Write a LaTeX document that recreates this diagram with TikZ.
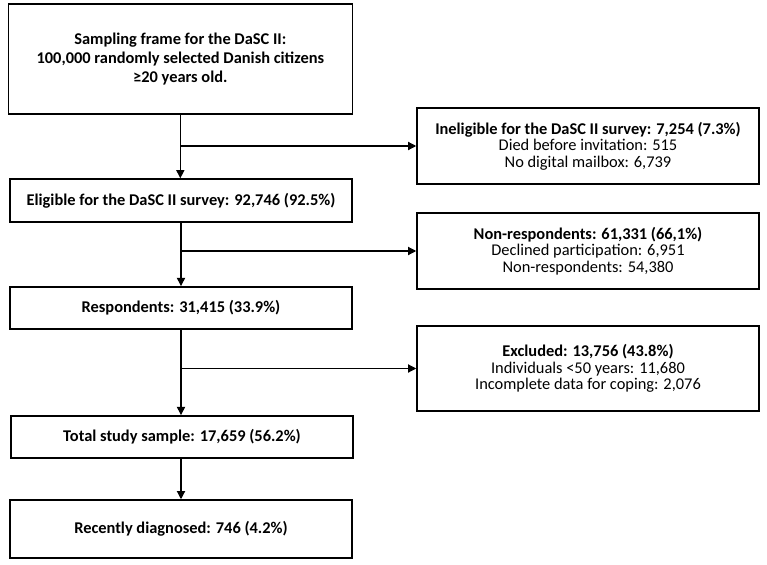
\documentclass[tikz,border=0pt]{standalone}
\usepackage{fontspec}
\setmainfont{Carlito}
\usetikzlibrary{arrows.meta, positioning, calc}

\begin{document}
\begin{tikzpicture}[
    >={Triangle[length=7pt,width=7pt]},
    font=\fontsize{14}{14.2}\selectfont,
    box/.style      ={draw, line width=1.3pt, align=center, inner sep=2pt,
                      minimum width=10.26cm, minimum height=1.27cm},
    mainbox/.style  ={box, font=\fontsize{14}{15}\selectfont\bfseries},
    sidebox/.style  ={box, minimum height=2.28cm},
    flow/.style     ={->, line width=1pt}
]
\useasboundingbox (0,0) rectangle (23.01,-16.95);

% Main column
\node[mainbox, minimum width=10.32cm, minimum height=3.3cm,
      font=\fontsize{14}{16}\selectfont\bfseries] (frame) at (5.41,-1.77)
    {Sampling frame for the DaSC II:\\100,000 randomly selected Danish citizens\\≥20 years old.};
\node[mainbox, minimum height=1.29cm] (elig) at (5.43,-6.015)
    {Eligible for the DaSC II survey: 92,746 (92.5\%)};
\node[mainbox] (resp)  at (5.43,-9.24)  {Respondents: 31,415 (33.9\%)};
\node[mainbox] (total) at (5.46,-13.11) {Total study sample: 17,659 (56.2\%)};
\node[mainbox, minimum height=1.74cm] (recent) at (5.43,-15.87)
    {Recently diagnosed: 746 (4.2\%)};

% Side column
\node[sidebox] (inel) at (17.64,-4.38)
    {\textbf{Ineligible for the DaSC II survey: 7,254 (7.3\%)}\\Died before invitation: 515\\No digital mailbox: 6,739};
\node[sidebox] (nonresp) at (17.64,-7.53)
    {\textbf{Non-respondents: 61,331 (66,1\%)}\\Declined participation: 6,951\\Non-respondents: 54,380};
\node[sidebox, minimum height=2.55cm] (excl) at (17.64,-11.055)
    {\textbf{Excluded: 13,756 (43.8\%)}\\Individuals <50 years: 11,680\\Incomplete data for coping: 2,076};

% --- Arrows ---
\draw[flow] (frame.south) -- (frame.south |- elig.north);
\draw[flow] (frame.south |- inel.west) -- (inel.west);
\draw[flow] (elig.south) -- (resp.north);
\draw[flow] (elig.south |- nonresp.west) -- (nonresp.west);
\draw[flow] (resp.south) -- (resp.south |- total.north);
\draw[flow] (resp.south |- excl.west) -- (excl.west);
\draw[flow] (total.south -| resp.south) -- (resp.south |- recent.north);

\end{tikzpicture}
\end{document}
